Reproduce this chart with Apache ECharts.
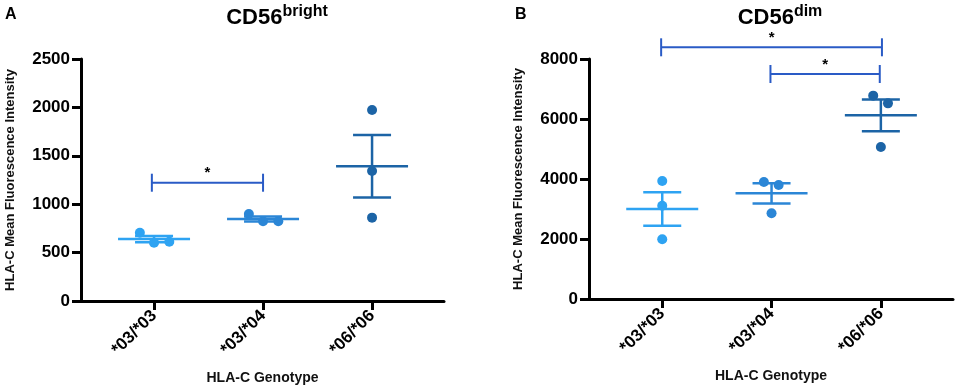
<!DOCTYPE html>
<html>
<head>
<meta charset="utf-8">
<script src="https://cdn.jsdelivr.net/npm/echarts@6/dist/echarts.min.js"></script>
<style>
  html, body { margin: 0; padding: 0; background: #fff; }
  #chart { width: 957px; height: 390px; }
</style>
</head>
<body>
<div id="chart"></div>
<script>
  // genotype groups
  var groups = ['*03/*03', '*03/*04', '*06/*06']
  var groupColors = ['#2ea3f2', '#2b86d6', '#1c64a6']

  // CD56 bright: single donors, mean, SEM
  var brightPoints = [[705, 602, 612], [899, 823, 823], [1973, 1343, 861]]
  var brightJitter = [[-0.13, 0, 0.14], [-0.13, 0, 0.14], [0, 0, 0]]
  var brightMean = [640, 848, 1392]
  var brightSem = [32, 26, 322]
  // significance: [from group, to group, height]
  var brightSig = [[-0.02, 1, 1222]]

  // CD56 dim
  var dimPoints = [[3933, 3110, 1990], [3900, 3800, 2857], [6778, 6522, 5067]]
  var dimJitter = [[0, 0, 0], [-0.07, 0.065, 0], [-0.07, 0.065, 0]]
  var dimMean = [3000, 3522, 6122]
  var dimSem = [560, 340, 528]
  var dimSig = [[-0.01, 2.01, 8390], [0.99, 1.99, 7500]]

  var font = 'Liberation Sans, Arial, sans-serif'
  var chart = echarts.init(document.getElementById('chart'))

  function pointSeries (points, jitter, idx) {
    let out = []
    points.forEach(function (vals, g) {
      out.push({
        type: 'scatter',
        xAxisIndex: idx,
        yAxisIndex: idx,
        symbolSize: 10,
        itemStyle: { color: groupColors[g], opacity: 1 },
        z: 2,
        data: vals.map(function (v, k) { return [g + jitter[g][k], v] })
      })
    })
    return out
  }

  function errorSeries (mean, sem, idx) {
    return {
      type: 'custom',
      xAxisIndex: idx,
      yAxisIndex: idx,
      z: 3,
      data: mean.map(function (m, g) { return [g, m, sem[g]] }),
      renderItem: function (params, api) {
        let g = api.value(0)
        let m = api.value(1)
        let s = api.value(2)
        let c = api.coord([g, m])
        let hi = api.coord([g, m + s])
        let lo = api.coord([g, m - s])
        let st = { stroke: groupColors[g], lineWidth: 2.5 }
        return {
          type: 'group',
          children: [
            { type: 'line', shape: { x1: c[0] - 36, y1: c[1], x2: c[0] + 36, y2: c[1] }, style: st },
            { type: 'line', shape: { x1: c[0], y1: hi[1], x2: c[0], y2: lo[1] }, style: st },
            { type: 'line', shape: { x1: c[0] - 19, y1: hi[1], x2: c[0] + 19, y2: hi[1] }, style: st },
            { type: 'line', shape: { x1: c[0] - 19, y1: lo[1], x2: c[0] + 19, y2: lo[1] }, style: st }
          ]
        }
      }
    }
  }

  function sigSeries (sig, idx) {
    return {
      type: 'custom',
      xAxisIndex: idx,
      yAxisIndex: idx,
      clip: false,
      z: 4,
      data: sig,
      renderItem: function (params, api) {
        let a = api.coord([api.value(0), api.value(2)])
        let b = api.coord([api.value(1), api.value(2)])
        let st = { stroke: '#2a5bc6', lineWidth: 2 }
        return {
          type: 'group',
          children: [
            { type: 'line', shape: { x1: a[0], y1: a[1], x2: b[0], y2: b[1] }, style: st },
            { type: 'line', shape: { x1: a[0], y1: a[1] - 9, x2: a[0], y2: a[1] + 9 }, style: st },
            { type: 'line', shape: { x1: b[0], y1: b[1] - 9, x2: b[0], y2: b[1] + 9 }, style: st },
            {
              type: 'text',
              x: (a[0] + b[0]) / 2,
              y: a[1] - 17,
              style: { text: '*', fill: '#000', font: 'bold 15px ' + font, align: 'center', verticalAlign: 'top' }
            }
          ]
        }
      }
    }
  }

  function xAxis (idx) {
    return {
      type: 'value',
      gridIndex: idx,
      min: -0.67,
      max: 2.66,
      name: 'HLA-C Genotype',
      nameLocation: 'middle',
      nameGap: 70,
      nameTextStyle: { fontFamily: font, fontWeight: 'bold', fontSize: 14, color: '#111' },
      axisLine: { onZero: false, lineStyle: { color: '#000', width: 3 } },
      axisTick: { customValues: [0, 1, 2], length: 9, lineStyle: { width: 3, color: '#000' } },
      axisLabel: {
        customValues: [0, 1, 2],
        rotate: 45,
        margin: 12,
        fontFamily: font,
        fontWeight: 'bold',
        fontSize: 17,
        color: '#000',
        formatter: function (v) { return groups[Math.round(v)] }
      },
      splitLine: { show: false }
    }
  }

  function yAxis (idx, max, step) {
    return {
      type: 'value',
      gridIndex: idx,
      min: 0,
      max: max,
      interval: step,
      name: 'HLA-C Mean Fluorescence Intensity',
      nameLocation: 'middle',
      nameGap: 64,
      nameTextStyle: { fontFamily: font, fontWeight: 'bold', fontSize: 13, color: '#111' },
      axisLine: { show: true, onZero: false, lineStyle: { color: '#000', width: 3 } },
      axisTick: { show: true, length: 9, lineStyle: { width: 3, color: '#000' } },
      axisLabel: {
        margin: 11, fontFamily: font, fontWeight: 'bold', fontSize: 17, color: '#000',
        formatter: function (v) { return String(v) }
      },
      splitLine: { show: false }
    }
  }

  let options = {
    animation: false,
    backgroundColor: '#fff',
    title: [
      {
        text: 'CD56{sup|bright}',
        left: 272,
        top: -1,
        textAlign: 'center',
        textStyle: {
          fontFamily: font, fontWeight: 'bold', fontSize: 22, color: '#000',
          rich: { sup: { fontFamily: font, fontWeight: 'bold', fontSize: 16, color: '#000', padding: [0, 0, 11, 0] } }
        }
      },
      {
        text: 'CD56{sup|dim}',
        left: 775,
        top: -1,
        textAlign: 'center',
        textStyle: {
          fontFamily: font, fontWeight: 'bold', fontSize: 22, color: '#000',
          rich: { sup: { fontFamily: font, fontWeight: 'bold', fontSize: 16, color: '#000', padding: [0, 0, 11, 0] } }
        }
      }
    ],
    graphic: [
      { type: 'text', left: 5, top: 7, style: { text: 'A', font: 'bold 16px ' + font, fill: '#000' } },
      { type: 'text', left: 515, top: 7, style: { text: 'B', font: 'bold 16px ' + font, fill: '#000' } }
    ],
    grid: [
      { left: 81, right: 513, top: 59, bottom: 89 },
      { left: 589, right: 4, top: 59, bottom: 91 }
    ],
    xAxis: [xAxis(0), xAxis(1)],
    yAxis: [yAxis(0, 2500, 500), yAxis(1, 8000, 2000)],
    series: [].concat(
      pointSeries(brightPoints, brightJitter, 0),
      [errorSeries(brightMean, brightSem, 0), sigSeries(brightSig, 0)],
      pointSeries(dimPoints, dimJitter, 1),
      [errorSeries(dimMean, dimSem, 1), sigSeries(dimSig, 1)]
    )
  }
  chart.setOption(options)
</script>
</body>
</html>
